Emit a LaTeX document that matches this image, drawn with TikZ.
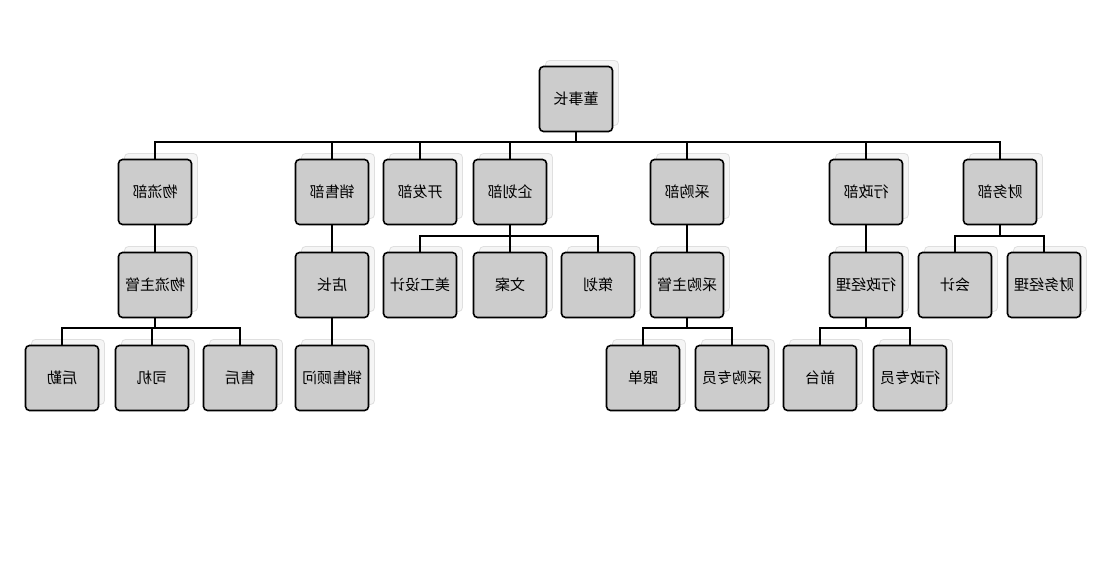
\documentclass[tikz,border=0pt]{standalone}
\usepackage{fontspec}
\usepackage{graphicx}
\newfontfamily\cjk{Noto Sans CJK SC}
\usetikzlibrary{shadows}
\newcommand{\mir}[1]{\scalebox{-1}[1]{#1}}
\tikzset{
  post/.style={draw=black, line width=1.6pt, rounded corners=4pt, fill=gray!40,
    minimum width=73pt, minimum height=65pt, inner sep=1pt,
    font=\cjk\fontsize{15}{18}\selectfont,
    copy shadow={shadow xshift=6pt, shadow yshift=6pt, fill=gray!8, draw=gray!25, line width=0.8pt}},
  link/.style={line width=1.6pt}
}
\begin{document}
\begin{tikzpicture}[x=1pt,y=-1pt]
	\useasboundingbox (0,0) rectangle (1120,580);
	% top
	\node [post] (dsz) at (576,99) {\mir{董事长}};
	% departments
	\node [post] (wlb) at (155,192) {\mir{物流部}};
	\node [post] (xsb) at (332,192) {\mir{销售部}};
	\node [post] (kfb) at (420,192) {\mir{开发部}};
	\node [post] (qhb) at (510,192) {\mir{企划部}};
	\node [post] (cgb) at (687,192) {\mir{采购部}};
	\node [post] (xzb) at (866,192) {\mir{行政部}};
	\node [post] (cwb) at (1000,192) {\mir{财务部}};
	% second level
	\node [post] (wlzg) at (155,285) {\mir{物流主管}};
	\node [post] (dz)   at (332,285) {\mir{店长}};
	\node [post] (mgsj) at (420,285) {\mir{美工设计}};
	\node [post] (wa)   at (510,285) {\mir{文案}};
	\node [post] (ch)   at (598,285) {\mir{策划}};
	\node [post] (cgzg) at (687,285) {\mir{采购主管}};
	\node [post] (xzjl) at (866,285) {\mir{行政经理}};
	\node [post] (kj)   at (955,285) {\mir{会计}};
	\node [post] (cwjl) at (1044,285) {\mir{财务经理}};
	% third level
	\node [post] (hq)   at (62,378)  {\mir{后勤}};
	\node [post] (sj)   at (152,378) {\mir{司机}};
	\node [post] (sh)   at (240,378) {\mir{售后}};
	\node [post] (xsgw) at (332,378) {\mir{销售顾问}};
	\node [post] (gd)   at (643,378) {\mir{跟单}};
	\node [post] (cgzy) at (732,378) {\mir{采购专员}};
	\node [post] (qt)   at (820,378) {\mir{前台}};
	\node [post] (xzzy) at (910,378) {\mir{行政专员}};
	% connectors
	\foreach \c in {wlb,xsb,kfb,qhb,cgb,xzb,cwb}
	  \draw [link] (dsz.south) -- (dsz.south |- 0,142) -| (\c.north);
	\draw [link] (wlb) -- (wlzg);
	\draw [link] (xsb) -- (dz);
	\draw [link] (dz) -- (xsgw);
	\foreach \c in {mgsj,wa,ch}
	  \draw [link] (qhb.south) -- (qhb.south |- 0,236) -| (\c.north);
	\draw [link] (cgb) -- (cgzg);
	\draw [link] (xzb) -- (xzjl);
	\foreach \c in {kj,cwjl}
	  \draw [link] (cwb.south) -- (cwb.south |- 0,236) -| (\c.north);
	\foreach \c in {hq,sj,sh}
	  \draw [link] (wlzg.south) -- (wlzg.south |- 0,328) -| (\c.north);
	\foreach \c in {gd,cgzy}
	  \draw [link] (cgzg.south) -- (cgzg.south |- 0,328) -| (\c.north);
	\foreach \c in {qt,xzzy}
	  \draw [link] (xzjl.south) -- (xzjl.south |- 0,328) -| (\c.north);
\end{tikzpicture}
\end{document}
